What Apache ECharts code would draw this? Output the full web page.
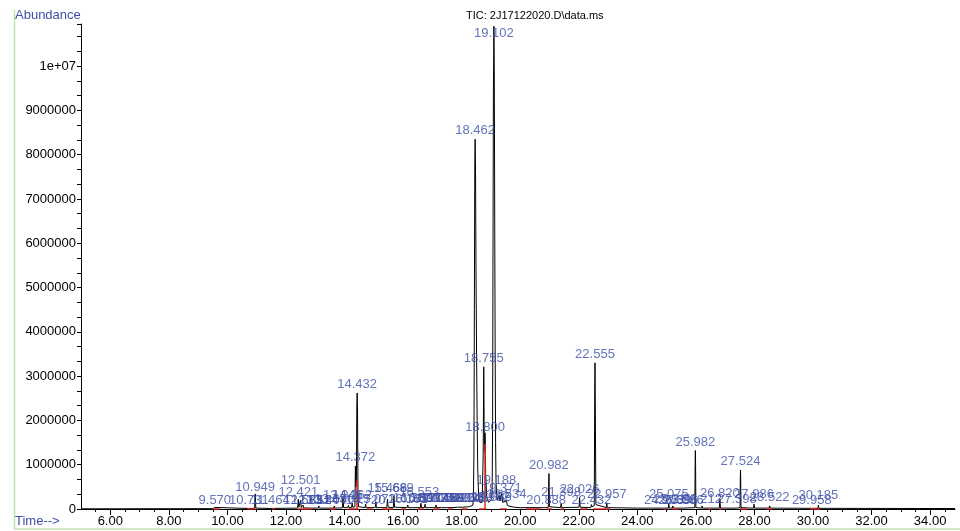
<!DOCTYPE html>
<html>
<head>
<meta charset="utf-8">
<title>TIC: 2J17122020.D\data.ms</title>
<script src="https://cdn.jsdelivr.net/npm/echarts@6/dist/echarts.min.js"></script>
<style>
  html, body { margin: 0; padding: 0; background: #fff; }
  #chart { width: 960px; height: 531px; }
</style>
</head>
<body>
<div id="chart"></div>
<script>
// TIC trace: retention time (min) and abundance
const traceTime = [
  5.00, 9.50, 9.555, 9.570, 9.59,
  10.71, 10.731, 10.75, 10.93, 10.949, 10.97,
  11.445, 11.464, 11.485,
  12.40, 12.421, 12.44, 12.501, 12.52, 12.583, 12.60,
  12.83, 12.851, 12.87, 13.10, 13.124, 13.14, 13.38, 13.404, 13.42,
  13.63, 13.650, 13.67, 13.925, 13.946, 13.97,
  14.11, 14.133, 14.15, 14.24, 14.262, 14.28,
  14.355, 14.372, 14.39, 14.405, 14.42, 14.432, 14.445, 14.46, 14.48,
  14.70, 14.720, 14.74, 15.05, 15.072, 15.09, 15.28, 15.30, 15.32,
  15.445, 15.466, 15.49, 15.665, 15.689, 15.71,
  16.14, 16.161, 16.18, 16.32, 16.339, 16.36, 16.59, 16.608, 16.63,
  16.73, 16.753, 16.77, 16.89, 16.914, 16.93,
  17.11, 17.125, 17.14, 17.30, 17.318, 17.34, 17.48, 17.502, 17.52,
  17.67, 17.691, 17.71, 17.86, 17.883, 17.90, 18.03, 18.052, 18.07,
  18.23, 18.245, 18.27,
  18.38, 18.40, 18.42, 18.435, 18.45, 18.462, 18.475, 18.49, 18.51, 18.53, 18.55, 18.58, 18.62,
  18.70, 18.735, 18.755, 18.77, 18.785, 18.800, 18.82, 18.86,
  18.92, 18.962, 19.00, 19.036, 19.045, 19.058, 19.07, 19.085, 19.102, 19.115, 19.13, 19.145, 19.16, 19.175,
  19.188, 19.21, 19.25, 19.28, 19.31, 19.371, 19.40, 19.45, 19.534, 19.56, 19.65, 19.80, 20.00,
  20.20, 20.87, 20.888, 20.91, 20.96, 20.982, 21.00,
  21.38, 21.398, 21.42, 22.01, 22.026, 22.05,
  22.41, 22.432, 22.45, 22.53, 22.545, 22.555, 22.565, 22.585,
  22.94, 22.957, 22.975, 24.00,
  24.89, 24.906, 24.92, 25.06, 25.075, 25.09, 25.20, 25.211, 25.23,
  25.38, 25.396, 25.41, 25.57, 25.586, 25.60,
  25.965, 25.975, 25.982, 25.99, 26.00, 26.20, 26.212, 26.23,
  26.80, 26.820, 26.84, 27.38, 27.398, 27.41,
  27.51, 27.518, 27.524, 27.53, 27.54, 27.97, 27.986, 28.00,
  28.50, 28.522, 28.54, 29.94, 29.958, 29.97, 30.17, 30.185, 30.20, 34.85
];
const traceAbund = [
  4000, 8000, 10000, 35000, 10000,
  12000, 45000, 12000, 15000, 340000, 20000,
  12000, 45000, 12000,
  20000, 220000, 40000, 200000, 30000, 90000, 25000,
  20000, 60000, 20000, 20000, 70000, 20000, 20000, 60000, 20000,
  20000, 70000, 20000, 25000, 260000, 30000,
  30000, 80000, 30000, 30000, 140000, 40000,
  50000, 970000, 500000, 600000, 2300000, 2620000, 2100000, 300000, 50000,
  30000, 110000, 30000, 30000, 160000, 30000, 30000, 70000, 30000,
  30000, 220000, 40000, 30000, 300000, 40000,
  30000, 90000, 30000, 30000, 70000, 30000, 30000, 130000, 30000,
  30000, 110000, 30000, 30000, 60000, 30000,
  30000, 90000, 30000, 30000, 70000, 30000, 30000, 50000, 30000,
  30000, 60000, 30000, 40000, 70000, 40000, 40000, 60000, 40000,
  50000, 90000, 50000,
  80000, 200000, 1200000, 4500000, 7800000, 8350000, 7600000, 5500000, 3500000, 2000000, 900000, 300000, 150000,
  150000, 1200000, 3210000, 1800000, 1300000, 1720000, 800000, 250000,
  150000, 180000, 200000, 300000, 600000, 2000000, 5500000, 9400000, 10900000, 9800000, 6500000, 3500000, 1500000, 600000,
  450000, 200000, 180000, 300000, 180000, 350000, 150000, 120000, 180000, 80000, 60000, 40000, 30000,
  30000, 30000, 60000, 30000, 40000, 800000, 50000,
  30000, 120000, 30000, 40000, 260000, 40000,
  30000, 100000, 50000, 80000, 2600000, 3300000, 2400000, 100000,
  30000, 140000, 30000, 20000,
  20000, 50000, 20000, 20000, 120000, 20000, 20000, 70000, 20000,
  20000, 50000, 20000, 20000, 50000, 20000,
  30000, 1000000, 1320000, 1000000, 30000, 20000, 70000, 20000,
  20000, 220000, 20000, 20000, 50000, 20000,
  30000, 700000, 880000, 700000, 30000, 20000, 110000, 20000,
  20000, 70000, 20000, 15000, 50000, 15000, 15000, 90000, 15000, 10000
];

// labelled peaks: retention time and the abundance level the label sits on
const peakTime = [
  9.570, 10.731, 10.949, 11.464, 12.421, 12.501, 12.583, 12.851, 13.124, 13.404,
  13.650, 13.946, 14.262, 14.372, 14.432, 14.720, 15.072, 15.466, 15.689, 16.161,
  16.339, 16.553, 16.608, 16.914, 17.125, 17.318, 17.502, 17.691, 17.883, 18.052,
  18.245, 18.462, 18.755, 18.800, 18.962, 19.036, 19.102, 19.188, 19.371, 19.534,
  20.888, 20.982, 21.398, 22.026, 22.432, 22.555, 22.957, 24.906, 25.075, 25.211,
  25.396, 25.586, 25.982, 26.212, 26.820, 27.398, 27.524, 27.986, 28.522, 29.958,
  30.185
];
const peakHeight = [
  0, 0, 300000, 0, 190000, 460000, 0, 0, 0, 0,
  20000, 120000, 120000, 970000, 2620000, 0, 20000, 280000, 280000, 20000,
  50000, 190000, 50000, 50000, 50000, 50000, 50000, 50000, 50000, 50000,
  50000, 8350000, 3210000, 1650000, 80000, 60000, 10900000, 460000, 280000, 140000,
  0, 790000, 190000, 240000, 0, 3300000, 140000, 0, 130000, 30000,
  0, 0, 1320000, 30000, 150000, 20000, 880000, 130000, 60000, 0,
  120000
];

// red integration marks: baseline segments and drop lines
const baseStart = [9.52, 10.68, 11.53, 12.42, 13.50, 14.13, 14.77, 15.30, 15.95, 16.50, 17.05, 17.55, 18.00, 18.60, 19.30, 20.20, 20.90, 21.40, 22.05, 22.50, 24.90, 25.20, 26.40, 26.80, 27.50, 28.40, 29.90];
const baseEnd = [9.75, 10.95, 11.63, 12.90, 13.70, 14.47, 14.95, 15.66, 16.10, 16.70, 17.25, 17.70, 18.20, 18.85, 19.55, 20.70, 21.10, 21.50, 22.30, 23.07, 25.00, 25.40, 26.50, 26.90, 27.75, 28.60, 30.24];
const dropTime = [14.43, 18.80];
const dropTop = [650000, 1470000];

const xLabelValues = [6, 8, 10, 12, 14, 16, 18, 20, 22, 24, 26, 28, 30, 32, 34];
const xMinorValues = [];
for (let v = 5.5; v < 34.85; v += 0.5) xMinorValues.push(v);

const blue = '#3c4fa8';
const font = 'Liberation Sans, Arial, sans-serif';

const chart = echarts.init(document.getElementById('chart'));

const traceData = traceTime.map((t, i) => [t, traceAbund[i]]);
const labelData = peakTime.map((t, i) => {
  const item = { value: [t, peakHeight[i]] };
  if (peakHeight[i] > 10000000) item.label = { position: 'bottom', distance: 1 };
  return item;
});
const redLines = baseStart.map((s, i) => ({ coords: [[s, 0], [baseEnd[i], 0]] }))
  .concat(dropTime.map((t, i) => ({ coords: [[t, 0], [t, dropTop[i]]] })));

chart.setOption({
  animation: false,
  textStyle: { fontFamily: font },
  title: {
    text: 'TIC: 2J17122020.D\\data.ms',
    left: 466,
    top: 10,
    padding: 0,
    textStyle: { fontSize: 11, fontWeight: 'normal', color: '#000', fontFamily: font }
  },
  grid: { left: 81, right: 5, top: 24, bottom: 22 },
  xAxis: [
    {
      type: 'value',
      min: 5,
      max: 34.85,
      axisLine: { lineStyle: { color: '#000', width: 1 } },
      axisTick: { customValues: xMinorValues, length: 3, lineStyle: { color: '#000' } },
      axisLabel: { customValues: xLabelValues, formatter: v => v.toFixed(2), color: '#000', fontSize: 13, margin: 6 },
      splitLine: { show: false }
    },
    {
      type: 'value',
      min: 5,
      max: 34.85,
      position: 'bottom',
      axisLine: { show: false },
      axisTick: { customValues: xLabelValues, length: 6, lineStyle: { color: '#000' } },
      axisLabel: { show: false },
      splitLine: { show: false }
    }
  ],
  yAxis: {
    type: 'value',
    min: 0,
    max: 10950000,
    interval: 1000000,
    axisLine: { show: true, lineStyle: { color: '#000', width: 1 } },
    axisTick: { show: true, length: 4, lineStyle: { color: '#000' } },
    minorTick: { show: true, splitNumber: 3, length: 4, lineStyle: { color: '#000' } },
    axisLabel: {
      color: '#000',
      fontSize: 13,
      margin: 5,
      formatter: v => (v > 10000001 ? '' : v === 10000000 ? '1e+07' : String(v))
    },
    splitLine: { show: false }
  },
  graphic: [
    { type: 'line', shape: { x1: 14.5, y1: 10, x2: 14.5, y2: 529 }, style: { stroke: '#bfe3a8', lineWidth: 1.5 } },
    { type: 'line', shape: { x1: 14, y1: 529, x2: 960, y2: 529 }, style: { stroke: '#bfe3a8', lineWidth: 1.5 } },
    { type: 'text', left: 15, top: 9, style: { text: 'Abundance', fill: blue, font: '13px ' + font } },
    { type: 'text', left: 15, top: 515, style: { text: 'Time-->', fill: blue, font: '13px ' + font } }
  ],
  series: [
    {
      type: 'line',
      data: traceData,
      symbol: 'none',
      lineStyle: { color: '#000', width: 1 },
      z: 3
    },
    {
      type: 'lines',
      coordinateSystem: 'cartesian2d',
      data: redLines,
      lineStyle: { color: '#e3261f', width: 1.5, opacity: 1 },
      z: 4
    },
    {
      type: 'scatter',
      data: labelData,
      symbolSize: 0,
      label: {
        show: true,
        position: 'top',
        distance: 2,
        color: blue,
        fontSize: 13,
        fontFamily: font,
        formatter: p => p.value[0].toFixed(3)
      },
      z: 5
    }
  ]
});
</script>
</body>
</html>
